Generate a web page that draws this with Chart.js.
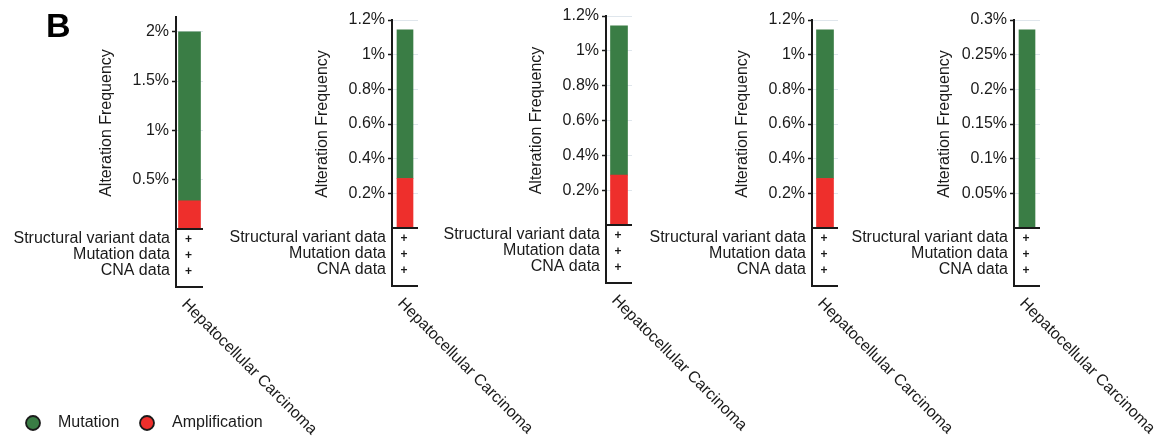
<!DOCTYPE html>
<html>
<head>
<meta charset="utf-8">
<script src="https://cdn.jsdelivr.net/npm/chart.js@4"></script>
<style>
  html, body { margin: 0; padding: 0; background: #fff; }
  #wrap { position: relative; width: 1168px; height: 439px; overflow: hidden; }
  #wrap canvas { position: absolute; left: 0; top: 0; }
</style>
</head>
<body>
<div id="wrap">
  <canvas id="c0" width="1168" height="439"></canvas>
  <canvas id="c1" width="1168" height="439"></canvas>
  <canvas id="c2" width="1168" height="439"></canvas>
  <canvas id="c3" width="1168" height="439"></canvas>
  <canvas id="c4" width="1168" height="439"></canvas>
</div>
<script>
/* ===== DATA ===== */
const CANCER = "Hepatocellular Carcinoma";
const PROFILES = ["Structural variant data", "Mutation data", "CNA data"];
const MUTATION = [1.714, 0.857, 0.857, 0.857, 0.286];
const AMPLIFICATION = [0.286, 0.286, 0.286, 0.286, 0];
const Y_MAX = [2.15, 1.2, 1.2, 1.2, 0.3];
const Y_STEP = [0.5, 0.2, 0.2, 0.2, 0.05];

/* ===== LAYOUT (pixels) ===== */
const W = 1168, H = 439;
const AXIS_X = [176, 392, 606, 812, 1014];
const TOP_Y = [17, 20, 16, 20, 20];
const BOTTOM_Y = [229, 228, 225, 228, 228];
const RIGHT_X = [203, 418, 632, 838, 1040];
const BAR_W = [22, 16, 17, 17, 16];
const Y_AXIS_W = 79;

const GREEN = "#3a7d45";
const RED = "#ee2f2c";
const INK = "#1a1a1a";
const FONT = "'Liberation Sans', Arial, sans-serif";

Chart.defaults.font.family = FONT;
Chart.defaults.color = INK;

const round6 = (v) => Math.round(v * 1e6) / 1e6;

/* ===== TABLE + LABEL UNDER EACH BAR ===== */
const tablePlugin = {
  id: "profileTable",
  afterDraw(chart) {
    const ctx = chart.ctx;
    const area = chart.chartArea;
    const ax = area.left;
    const b = area.bottom;
    const barX = chart.scales.x.getPixelForValue(0);
    ctx.save();
    // x axis line + axis extension below
    ctx.strokeStyle = INK;
    ctx.lineWidth = 2;
    ctx.beginPath();
    ctx.moveTo(ax, b);
    ctx.lineTo(area.right, b);
    ctx.moveTo(ax, b);
    ctx.lineTo(ax, b + 58);
    ctx.lineTo(area.right, b + 58);
    ctx.stroke();

    // profile rows
    ctx.fillStyle = INK;
    ctx.textBaseline = "middle";
    PROFILES.forEach((p, i) => {
      const y = b + 10 + i * 16;
      ctx.textAlign = "right";
      ctx.font = "16px " + FONT;
      ctx.fillText(p, ax - 6, y);
      ctx.textAlign = "center";
      ctx.font = "bold 12px " + FONT;
      ctx.fillText("+", barX - 1, y + 1);
    });

    // rotated category label
    ctx.translate(ax + 8, b + 73);
    ctx.rotate(Math.PI / 4);
    ctx.font = "16px " + FONT;
    ctx.textAlign = "left";
    ctx.textBaseline = "middle";
    ctx.fillText(chart.data.labels[0], 0, 0);
    ctx.restore();
  },
};

/* ===== LEGEND + PANEL LETTER (first chart only) ===== */
const legendPlugin = {
  id: "dotLegend",
  afterDraw(chart) {
    const ctx = chart.ctx;
    ctx.save();
    ctx.fillStyle = "#000";
    ctx.font = "bold 34px " + FONT;
    ctx.textAlign = "left";
    ctx.textBaseline = "alphabetic";
    ctx.fillText("B", 46, 37);

    const items = chart.data.datasets.slice().reverse();
    const pos = [33, 147];
    items.forEach((ds, i) => {
      ctx.beginPath();
      ctx.arc(pos[i], 423, 7, 0, Math.PI * 2);
      ctx.fillStyle = ds.backgroundColor;
      ctx.fill();
      ctx.lineWidth = 1.8;
      ctx.strokeStyle = INK;
      ctx.stroke();
      ctx.fillStyle = INK;
      ctx.font = "16px " + FONT;
      ctx.textBaseline = "middle";
      ctx.fillText(ds.label, pos[i] + 25, 423);
    });
    ctx.restore();
  },
};

/* ===== BUILD PANELS ===== */
function makePanel(i) {
  const step = Y_STEP[i];
  return new Chart(document.getElementById("c" + i), {
    type: "bar",
    data: {
      labels: [CANCER],
      datasets: [
        { label: "Amplification", data: [AMPLIFICATION[i]], backgroundColor: RED },
        { label: "Mutation", data: [MUTATION[i]], backgroundColor: GREEN },
      ],
    },
    plugins: i === 0 ? [tablePlugin, legendPlugin] : [tablePlugin],
    options: {
      responsive: false,
      animation: false,
      events: [],
      datasets: { bar: { barThickness: BAR_W[i], borderWidth: 0 } },
      layout: {
        padding: {
          left: AXIS_X[i] - Y_AXIS_W,
          right: W - RIGHT_X[i],
          top: TOP_Y[i],
          bottom: H - BOTTOM_Y[i],
        },
      },
      plugins: { legend: { display: false }, tooltip: { enabled: false } },
      scales: {
        x: { stacked: true, display: false },
        y: {
          stacked: true,
          min: 0,
          max: Y_MAX[i],
          afterFit: (s) => { s.width = Y_AXIS_W; },
          afterBuildTicks: (s) => {
            const ticks = [];
            for (let k = 1; k * step <= s.max + 1e-9; k++) {
              ticks.push({ value: round6(k * step) });
            }
            s.ticks = ticks;
          },
          ticks: {
            padding: 3,
            font: { size: 16 },
            color: INK,
            callback: (v) => round6(v) + "%",
          },
          grid: {
            color: "#dfe6ec",
            lineWidth: 1,
            tickColor: INK,
            tickLength: 4,
            tickWidth: 1.5,
          },
          border: { display: true, color: INK, width: 2 },
          title: {
            display: true,
            text: "Alteration Frequency",
            font: { size: 16 },
            color: INK,
            padding: 0,
          },
        },
      },
    },
  });
}

[0, 1, 2, 3, 4].forEach(makePanel);
</script>
</body>
</html>
